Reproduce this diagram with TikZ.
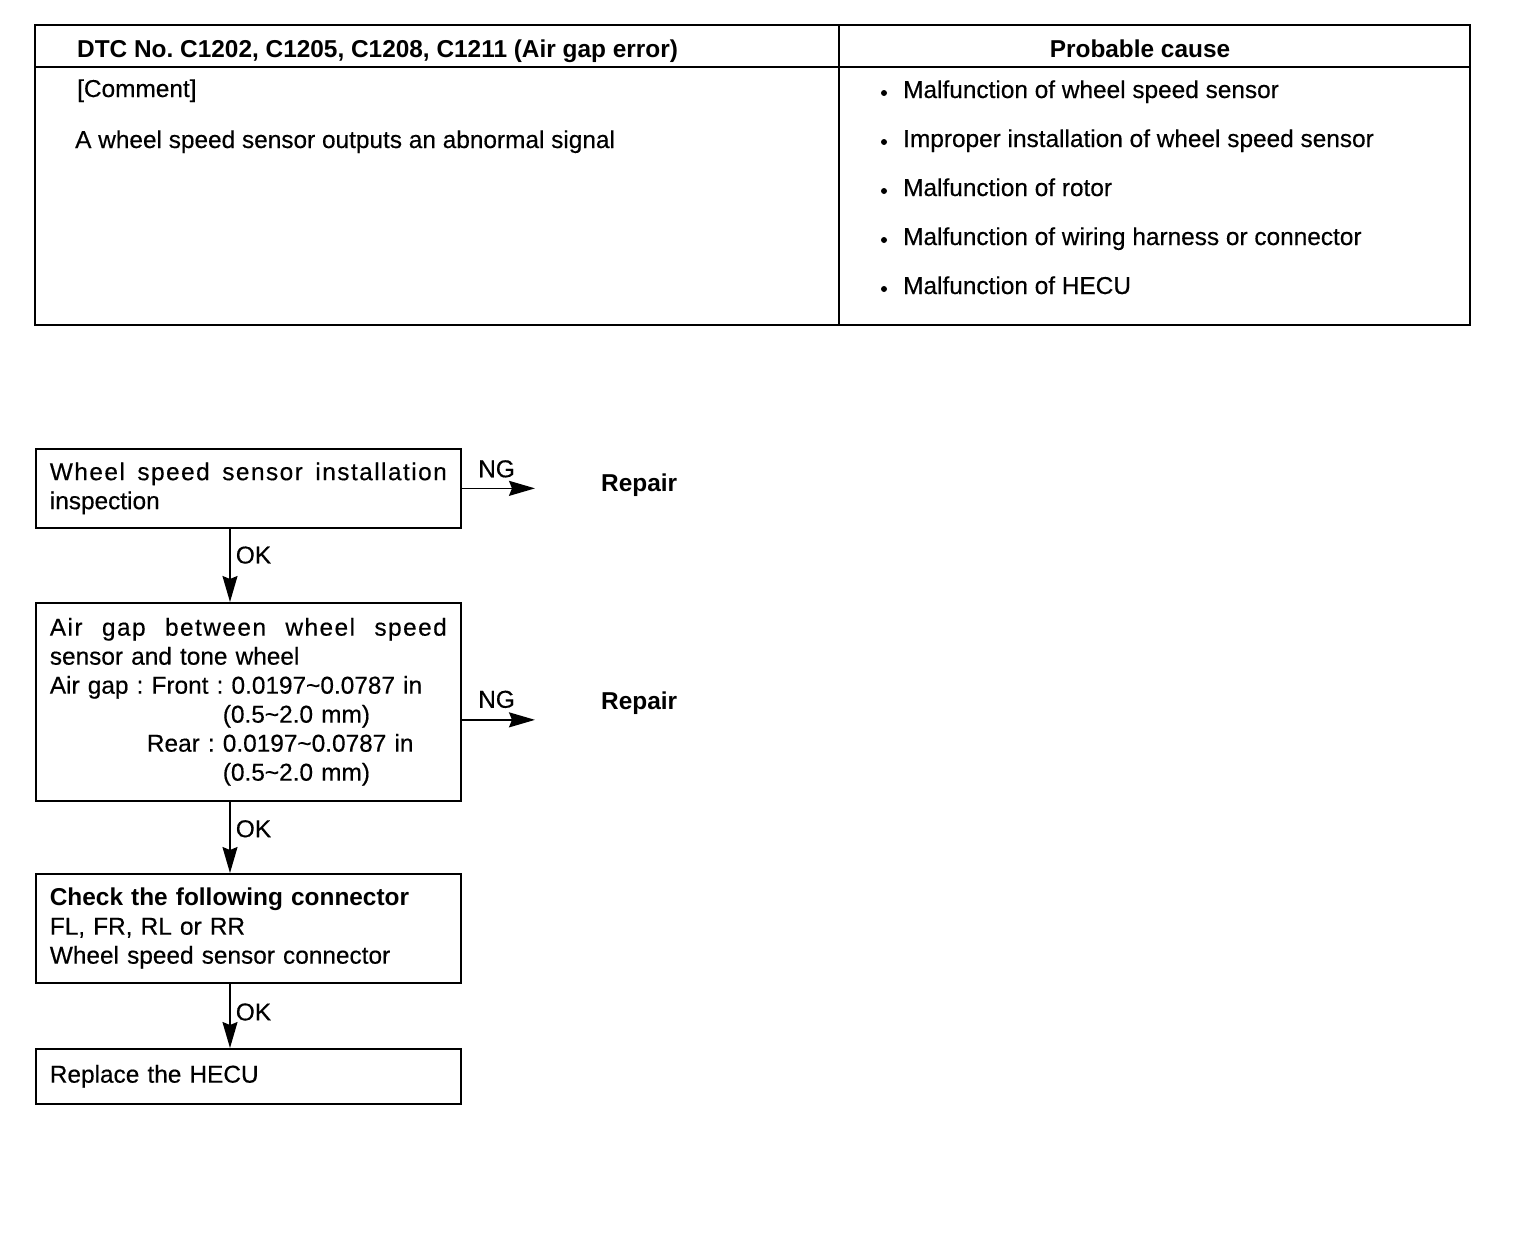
\documentclass[tikz,border=0pt]{standalone}
\usepackage{fontspec}
\setmainfont{Liberation Sans}[UprightFeatures={FakeBold=0.4}]
\usetikzlibrary{arrows.meta,calc}
\newcommand\spreadline[1]{\hbox to 397pt{\addfontfeature{LetterSpace=6}#1}}
\newcommand\gp{\hspace{0pt plus 1fil}}
\begin{document}
\begin{tikzpicture}[x=1pt,y=-1pt,
  every node/.style={font=\fontsize{24.4pt}{29pt}\selectfont\frenchspacing, inner sep=0pt},
  tline/.style={line width=1.7pt},
  flowbox/.style={draw, line width=1.7pt, rectangle, anchor=north west, align=left,
     text width=397pt, inner xsep=14pt, inner ysep=0pt},
  arr/.style={line width=1.7pt, -{Stealth[length=26pt,width=15pt,inset=3pt]}},
  lbl/.style={anchor=west, inner sep=0pt},
  ttext/.style={anchor=base west},
  bul/.style={circle, fill, minimum size=6pt, inner sep=0pt}
]
\useasboundingbox (0,0) rectangle (1520,1232);
% ---------- table ----------
\draw[tline] (35,25) rectangle (1470,325);
\draw[tline] (35,67) -- (1470,67);
\draw[tline] (839,25) -- (839,325);
\node[ttext] (hl) at (77,57) {\textbf{DTC No. C1202, C1205, C1208, C1211 (Air gap error)}};
\node[anchor=base] (hr) at (1140,57) {\textbf{Probable cause}};
\node[ttext] (cm) at (77,97) {[Comment]};
\node[ttext] (ct) at (75,148) {A wheel speed sensor outputs an abnormal signal};
\foreach \yy/\txt [count=\i] in {98/Malfunction of wheel speed sensor,
  147/Improper installation of wheel speed sensor,
  196/Malfunction of rotor,
  245/Malfunction of wiring harness or connector,
  294/Malfunction of HECU}{
  \node[ttext] (pc\i) at (903,\yy) {\txt};
  \node[bul] (bu\i) at (884,\yy-5) {};
}
% ---------- flow chart ----------
\node[flowbox, minimum width=425pt, minimum height=79pt] (b1) at (35,448)
  {\spreadline{Wheel\gp speed\gp sensor\gp installation}\\inspection};
\node[flowbox, minimum width=424pt, minimum height=198pt] (b2) at (35,602)
  {\spreadline{Air\gp gap\gp between\gp wheel\gp speed}\\
   sensor and tone wheel\\
   Air gap : Front : 0.0197\textasciitilde0.0787 in\\
   \hspace*{173pt}(0.5\textasciitilde2.0 mm)\\
   \makebox[173pt][r]{Rear :\ }0.0197\textasciitilde0.0787 in\\
   \hspace*{173pt}(0.5\textasciitilde2.0 mm)};
\node[flowbox, minimum width=424pt, minimum height=109pt] (b3) at (35,873)
  {\textbf{Check the following connector}\\FL, FR, RL or RR\\Wheel speed sensor connector};
\node[flowbox, minimum width=423pt, minimum height=55pt] (b4) at (35,1048)
  {Replace the HECU};
\node[anchor=west] (r1) at (601,485) {\textbf{Repair}};
\node[anchor=west] (r2) at (601,703) {\textbf{Repair}};
\coordinate (ax) at (230,0);
\coordinate (n2) at ($(b2.east)+(0,18)$);
% connectors
\draw[arr] (b1.south -| ax) -- node[lbl, pos=0.36, xshift=5pt]{OK} (b2.north -| ax);
\draw[arr] (b2.south -| ax) -- node[lbl, pos=0.38, xshift=5pt]{OK} (b3.north -| ax);
\draw[arr] (b3.south -| ax) -- node[lbl, pos=0.44, xshift=5pt]{OK} (b4.north -| ax);
\draw[arr, shorten >=66pt] (b1.east) -- node[anchor=south, pos=0.25, yshift=10pt]{NG} (b1.east -| r1.west);
\draw[arr, shorten >=66pt] (n2) -- node[anchor=south, pos=0.25, yshift=11pt]{NG} (n2 -| r2.west);
\end{tikzpicture}
\end{document}
